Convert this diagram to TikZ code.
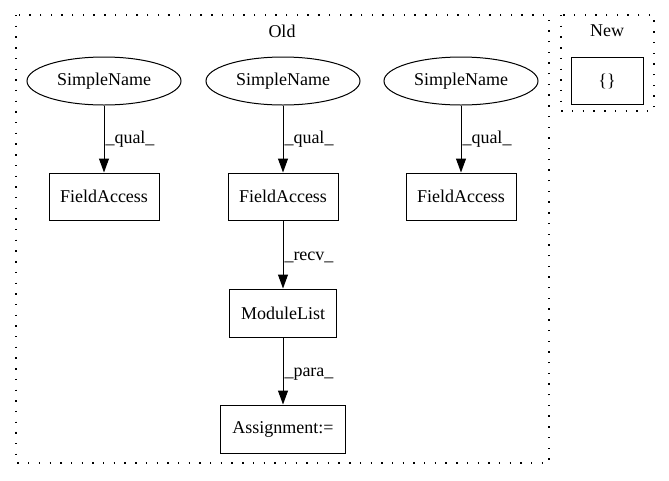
\documentclass[tikz,border=0pt]{standalone}
\usepackage{fontspec}
\setmainfont{Liberation Serif}
\usetikzlibrary{arrows.meta,shapes.geometric}
\usetikzlibrary{positioning}
\tikzset{
    leaf/.style={
           ellipse,
           draw=black,
           minimum width=154pt,
           minimum height=48pt,
           inner sep=0pt,
           text centered,
           },
    box/.style={
           rectangle,
           draw=black,
           minimum height=47pt,
           inner sep=0pt,
           text centered,
           },
    cluster/.style={
           draw=black,
           line width=1.2pt,
           dash pattern=on 1.4pt off 9.3pt,
           },
}

\begin{document}
\begin{tikzpicture}[x=1pt,y=-1pt,line width=1pt,
 -{Triangle[length=14pt,width=10pt]},
 font=\fontsize{18}{21}\selectfont]
 \useasboundingbox (0,0) rectangle (669,480);

 % clusters
 \draw[cluster,-] (16,15) rectangle (549,463);
 \node (OLD) at (282,31) {Old};
 \draw[cluster,-] (561,15) rectangle (654,111);
 \node (NEW) at (607,31) {New};

 \node[leaf] (SN2) at (283,81) {SimpleName};
 \node[leaf, left of=SN2, node distance=179pt] (SN1) {SimpleName};
 \node[leaf, right of=SN2, node distance=178pt] (SN3) {SimpleName};

 \node[box, minimum width=110pt, below of=SN1, node distance=115.5pt] (FA1) {FieldAccess};
 \node[box, minimum width=110pt, below of=SN2, node distance=115.5pt] (FA2) {FieldAccess};
 \node[box, minimum width=110pt, below of=SN3, node distance=115.5pt] (FA3) {FieldAccess};

 \node[box, minimum width=107pt, minimum height=48pt,
 below of=FA2, node distance=116.5pt] (ML) {ModuleList};
 \node[box, minimum width=125pt, minimum height=48pt,
 below of=ML, node distance=116pt] (ASG) {Assignment:=};

 \node[box, minimum width=72pt] (EMPTY) at (607,81) {\{\}};

 \path (SN1) edge node[anchor=west,inner sep=1pt] {\_qual\_} (FA1);
 \path (SN2) edge node[anchor=west,inner sep=1pt] {\_qual\_} (FA2);
 \path (SN3) edge node[anchor=west,inner sep=1pt] {\_qual\_} (FA3);
 \path (FA2) edge node[anchor=west,inner sep=1pt,yshift=-3pt] {\_recv\_} (ML);
 \path (ML) edge node[anchor=west,inner sep=1pt,yshift=-3pt] {\_para\_} (ASG);
\end{tikzpicture}
\end{document}
